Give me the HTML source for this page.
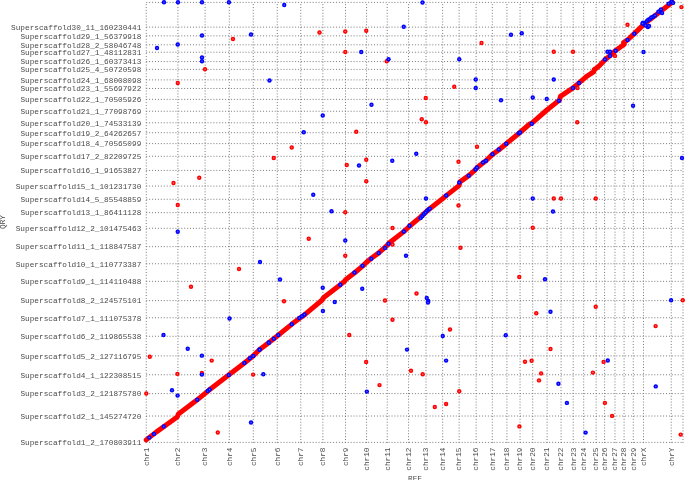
<!DOCTYPE html><html><head><meta charset="utf-8"><style>html,body{margin:0;padding:0;background:#fff;width:685px;height:480px;overflow:hidden}svg{display:block;will-change:transform}text{font-family:"Liberation Mono",monospace;fill:#4a4a4a}</style></head><body>
<svg width="685" height="480" viewBox="0 0 685 480">
<g stroke="#7a7a7a" stroke-width="1" stroke-dasharray="1 1.92"><line x1="146.24" y1="442.40" x2="683.0" y2="442.40"/><line x1="146.24" y1="416.03" x2="683.0" y2="416.03"/><line x1="146.24" y1="393.60" x2="683.0" y2="393.60"/><line x1="146.24" y1="374.78" x2="683.0" y2="374.78"/><line x1="146.24" y1="355.89" x2="683.0" y2="355.89"/><line x1="146.24" y1="336.27" x2="683.0" y2="336.27"/><line x1="146.24" y1="317.76" x2="683.0" y2="317.76"/><line x1="146.24" y1="300.61" x2="683.0" y2="300.61"/><line x1="146.24" y1="281.37" x2="683.0" y2="281.37"/><line x1="146.24" y1="263.76" x2="683.0" y2="263.76"/><line x1="146.24" y1="246.65" x2="683.0" y2="246.65"/><line x1="146.24" y1="228.30" x2="683.0" y2="228.30"/><line x1="146.24" y1="212.63" x2="683.0" y2="212.63"/><line x1="146.24" y1="199.29" x2="683.0" y2="199.29"/><line x1="146.24" y1="186.08" x2="683.0" y2="186.08"/><line x1="146.24" y1="170.45" x2="683.0" y2="170.45"/><line x1="146.24" y1="156.30" x2="683.0" y2="156.30"/><line x1="146.24" y1="143.61" x2="683.0" y2="143.61"/><line x1="146.24" y1="132.71" x2="683.0" y2="132.71"/><line x1="146.24" y1="122.79" x2="683.0" y2="122.79"/><line x1="146.24" y1="111.28" x2="683.0" y2="111.28"/><line x1="146.24" y1="99.38" x2="683.0" y2="99.38"/><line x1="146.24" y1="88.49" x2="683.0" y2="88.49"/><line x1="146.24" y1="79.89" x2="683.0" y2="79.89"/><line x1="146.24" y1="69.39" x2="683.0" y2="69.39"/><line x1="146.24" y1="61.56" x2="683.0" y2="61.56"/><line x1="146.24" y1="52.24" x2="683.0" y2="52.24"/><line x1="146.24" y1="44.81" x2="683.0" y2="44.81"/><line x1="146.24" y1="35.85" x2="683.0" y2="35.85"/><line x1="146.24" y1="27.14" x2="683.0" y2="27.14"/><line x1="146.24" y1="2.40" x2="683.0" y2="2.40"/></g>
<g stroke="#7a7a7a" stroke-width="1" stroke-dasharray="1 1.88"><line x1="146.24" y1="442.9" x2="146.24" y2="2.4"/><line x1="177.91" y1="442.9" x2="177.91" y2="2.4"/><line x1="205.12" y1="442.9" x2="205.12" y2="2.4"/><line x1="229.29" y1="442.9" x2="229.29" y2="2.4"/><line x1="253.25" y1="442.9" x2="253.25" y2="2.4"/><line x1="277.24" y1="442.9" x2="277.24" y2="2.4"/><line x1="300.77" y1="442.9" x2="300.77" y2="2.4"/><line x1="322.88" y1="442.9" x2="322.88" y2="2.4"/><line x1="345.51" y1="442.9" x2="345.51" y2="2.4"/><line x1="366.58" y1="442.9" x2="366.58" y2="2.4"/><line x1="387.21" y1="442.9" x2="387.21" y2="2.4"/><line x1="408.58" y1="442.9" x2="408.58" y2="2.4"/><line x1="426.00" y1="442.9" x2="426.00" y2="2.4"/><line x1="442.67" y1="442.9" x2="442.67" y2="2.4"/><line x1="459.13" y1="442.9" x2="459.13" y2="2.4"/><line x1="476.11" y1="442.9" x2="476.11" y2="2.4"/><line x1="492.30" y1="442.9" x2="492.30" y2="2.4"/><line x1="506.91" y1="442.9" x2="506.91" y2="2.4"/><line x1="520.06" y1="442.9" x2="520.06" y2="2.4"/><line x1="532.73" y1="442.9" x2="532.73" y2="2.4"/><line x1="547.11" y1="442.9" x2="547.11" y2="2.4"/><line x1="561.06" y1="442.9" x2="561.06" y2="2.4"/><line x1="573.20" y1="442.9" x2="573.20" y2="2.4"/><line x1="583.69" y1="442.9" x2="583.69" y2="2.4"/><line x1="596.13" y1="442.9" x2="596.13" y2="2.4"/><line x1="604.59" y1="442.9" x2="604.59" y2="2.4"/><line x1="614.98" y1="442.9" x2="614.98" y2="2.4"/><line x1="624.09" y1="442.9" x2="624.09" y2="2.4"/><line x1="633.26" y1="442.9" x2="633.26" y2="2.4"/><line x1="643.47" y1="442.9" x2="643.47" y2="2.4"/><line x1="671.24" y1="442.9" x2="671.24" y2="2.4"/><line x1="683.00" y1="442.9" x2="683.00" y2="2.4"/></g>
<g font-size="7.75"><text x="141.3" y="445.20" text-anchor="end">Superscaffold1_2_170803911</text><text x="141.3" y="418.83" text-anchor="end">Superscaffold2_1_145274720</text><text x="141.3" y="396.40" text-anchor="end">Superscaffold3_2_121875780</text><text x="141.3" y="377.58" text-anchor="end">Superscaffold4_1_122308515</text><text x="141.3" y="358.69" text-anchor="end">Superscaffold5_2_127116795</text><text x="141.3" y="339.07" text-anchor="end">Superscaffold6_2_119865538</text><text x="141.3" y="320.56" text-anchor="end">Superscaffold7_1_111075378</text><text x="141.3" y="303.41" text-anchor="end">Superscaffold8_2_124575101</text><text x="141.3" y="284.17" text-anchor="end">Superscaffold9_1_114110488</text><text x="141.3" y="266.56" text-anchor="end">Superscaffold10_1_110773387</text><text x="141.3" y="249.45" text-anchor="end">Superscaffold11_1_118847587</text><text x="141.3" y="231.10" text-anchor="end">Superscaffold12_2_101475463</text><text x="141.3" y="215.43" text-anchor="end">Superscaffold13_1_86411128</text><text x="141.3" y="202.09" text-anchor="end">Superscaffold14_5_85548859</text><text x="141.3" y="188.88" text-anchor="end">Superscaffold15_1_101231730</text><text x="141.3" y="173.25" text-anchor="end">Superscaffold16_1_91653827</text><text x="141.3" y="159.10" text-anchor="end">Superscaffold17_2_82209725</text><text x="141.3" y="146.41" text-anchor="end">Superscaffold18_4_70565099</text><text x="141.3" y="135.51" text-anchor="end">Superscaffold19_2_64262657</text><text x="141.3" y="125.59" text-anchor="end">Superscaffold20_1_74533139</text><text x="141.3" y="114.08" text-anchor="end">Superscaffold21_1_77098769</text><text x="141.3" y="102.18" text-anchor="end">Superscaffold22_1_70505926</text><text x="141.3" y="91.29" text-anchor="end">Superscaffold23_1_55697922</text><text x="141.3" y="82.69" text-anchor="end">Superscaffold24_1_68008098</text><text x="141.3" y="72.19" text-anchor="end">Superscaffold25_4_50720598</text><text x="141.3" y="64.36" text-anchor="end">Superscaffold26_1_60373413</text><text x="141.3" y="55.04" text-anchor="end">Superscaffold27_1_48112831</text><text x="141.3" y="47.61" text-anchor="end">Superscaffold28_2_58046748</text><text x="141.3" y="38.65" text-anchor="end">Superscaffold29_1_56379918</text><text x="141.3" y="29.94" text-anchor="end">Superscaffold30_11_160230441</text></g>
<g font-size="7.75"><text transform="translate(148.54 447.5) rotate(-90)" text-anchor="end">chr1</text><text transform="translate(180.21 447.5) rotate(-90)" text-anchor="end">chr2</text><text transform="translate(207.42 447.5) rotate(-90)" text-anchor="end">chr3</text><text transform="translate(231.59 447.5) rotate(-90)" text-anchor="end">chr4</text><text transform="translate(255.55 447.5) rotate(-90)" text-anchor="end">chr5</text><text transform="translate(279.54 447.5) rotate(-90)" text-anchor="end">chr6</text><text transform="translate(303.07 447.5) rotate(-90)" text-anchor="end">chr7</text><text transform="translate(325.18 447.5) rotate(-90)" text-anchor="end">chr8</text><text transform="translate(347.81 447.5) rotate(-90)" text-anchor="end">chr9</text><text transform="translate(368.88 447.5) rotate(-90)" text-anchor="end">chr10</text><text transform="translate(389.51 447.5) rotate(-90)" text-anchor="end">chr11</text><text transform="translate(410.88 447.5) rotate(-90)" text-anchor="end">chr12</text><text transform="translate(428.30 447.5) rotate(-90)" text-anchor="end">chr13</text><text transform="translate(444.97 447.5) rotate(-90)" text-anchor="end">chr14</text><text transform="translate(461.43 447.5) rotate(-90)" text-anchor="end">chr15</text><text transform="translate(478.41 447.5) rotate(-90)" text-anchor="end">chr16</text><text transform="translate(494.60 447.5) rotate(-90)" text-anchor="end">chr17</text><text transform="translate(509.21 447.5) rotate(-90)" text-anchor="end">chr18</text><text transform="translate(522.36 447.5) rotate(-90)" text-anchor="end">chr19</text><text transform="translate(535.03 447.5) rotate(-90)" text-anchor="end">chr20</text><text transform="translate(549.41 447.5) rotate(-90)" text-anchor="end">chr21</text><text transform="translate(563.36 447.5) rotate(-90)" text-anchor="end">chr22</text><text transform="translate(575.50 447.5) rotate(-90)" text-anchor="end">chr23</text><text transform="translate(585.99 447.5) rotate(-90)" text-anchor="end">chr24</text><text transform="translate(598.43 447.5) rotate(-90)" text-anchor="end">chr25</text><text transform="translate(606.89 447.5) rotate(-90)" text-anchor="end">chr26</text><text transform="translate(617.28 447.5) rotate(-90)" text-anchor="end">chr27</text><text transform="translate(626.39 447.5) rotate(-90)" text-anchor="end">chr28</text><text transform="translate(635.56 447.5) rotate(-90)" text-anchor="end">chr29</text><text transform="translate(645.77 447.5) rotate(-90)" text-anchor="end">chrX</text><text transform="translate(673.54 447.5) rotate(-90)" text-anchor="end">chrY</text></g>
<text font-size="7.75" transform="translate(5.3 222) rotate(-90)" text-anchor="middle">QRY</text>
<text font-size="7.75" x="415" y="481" text-anchor="middle">REF</text>
<polyline points="146.20,439.90 156.50,431.90 164.00,426.50 177.20,416.90 178.40,414.10 196.90,400.10 208.50,390.60 229.00,374.75 244.40,362.90 253.10,356.00 259.40,349.75 269.00,342.50 278.50,335.00 291.90,324.10 300.00,318.10 305.00,314.40 321.90,300.25 323.75,297.50 340.00,285.00 344.60,281.30 345.80,279.40 355.00,272.50 363.10,265.60 366.25,262.50 371.00,258.50 378.75,252.90 386.90,245.60 389.40,242.75 403.75,231.60 409.75,226.00 419.80,217.60 428.75,209.40 442.50,198.75 446.25,195.60 459.00,185.60 460.00,181.90 468.75,175.60 474.40,170.60 477.25,167.50 481.90,163.75 485.60,161.00 492.50,154.40 498.75,150.00 506.25,143.75 518.75,133.50 530.00,123.75 531.90,123.10 546.90,110.00 558.75,100.60 559.60,100.10 560.40,96.30 573.10,87.90 578.75,83.10 583.75,78.90 586.00,76.90 591.00,73.50 593.60,71.90 594.30,69.60 596.25,68.20 599.50,65.60 605.00,59.75 610.00,55.60 616.00,50.20 624.30,44.20 623.60,42.60 627.75,39.75 634.00,33.90 640.00,28.10 643.50,24.60 672.30,2.20" fill="none" stroke="#ff0000" stroke-width="5" stroke-linecap="round" stroke-linejoin="round"/>
<circle cx="232.97" cy="39.06" r="2.2" fill="#ff0000"/><circle cx="232.97" cy="39.06" r="0.75" fill="#ff7070"/><circle cx="205.00" cy="69.25" r="2.2" fill="#ff0000"/><circle cx="205.00" cy="69.25" r="0.75" fill="#ff7070"/><circle cx="177.75" cy="83.00" r="2.2" fill="#ff0000"/><circle cx="177.75" cy="83.00" r="0.75" fill="#ff7070"/><circle cx="319.50" cy="32.50" r="2.2" fill="#ff0000"/><circle cx="319.50" cy="32.50" r="0.75" fill="#ff7070"/><circle cx="345.25" cy="31.50" r="2.2" fill="#ff0000"/><circle cx="345.25" cy="31.50" r="0.75" fill="#ff7070"/><circle cx="366.25" cy="30.75" r="2.2" fill="#ff0000"/><circle cx="366.25" cy="30.75" r="0.75" fill="#ff7070"/><circle cx="345.25" cy="52.00" r="2.2" fill="#ff0000"/><circle cx="345.25" cy="52.00" r="0.75" fill="#ff7070"/><circle cx="386.75" cy="61.25" r="2.2" fill="#ff0000"/><circle cx="386.75" cy="61.25" r="0.75" fill="#ff7070"/><circle cx="454.25" cy="86.75" r="2.2" fill="#ff0000"/><circle cx="454.25" cy="86.75" r="0.75" fill="#ff7070"/><circle cx="425.75" cy="98.00" r="2.2" fill="#ff0000"/><circle cx="425.75" cy="98.00" r="0.75" fill="#ff7070"/><circle cx="421.75" cy="119.25" r="2.2" fill="#ff0000"/><circle cx="421.75" cy="119.25" r="0.75" fill="#ff7070"/><circle cx="426.00" cy="122.25" r="2.2" fill="#ff0000"/><circle cx="426.00" cy="122.25" r="0.75" fill="#ff7070"/><circle cx="481.50" cy="43.00" r="2.2" fill="#ff0000"/><circle cx="481.50" cy="43.00" r="0.75" fill="#ff7070"/><circle cx="553.75" cy="51.75" r="2.2" fill="#ff0000"/><circle cx="553.75" cy="51.75" r="0.75" fill="#ff7070"/><circle cx="573.00" cy="51.75" r="2.2" fill="#ff0000"/><circle cx="573.00" cy="51.75" r="0.75" fill="#ff7070"/><circle cx="577.50" cy="88.00" r="2.2" fill="#ff0000"/><circle cx="577.50" cy="88.00" r="0.75" fill="#ff7070"/><circle cx="615.00" cy="55.90" r="2.2" fill="#ff0000"/><circle cx="615.00" cy="55.90" r="0.75" fill="#ff7070"/><circle cx="681.40" cy="7.10" r="2.2" fill="#ff0000"/><circle cx="681.40" cy="7.10" r="0.75" fill="#ff7070"/><circle cx="627.50" cy="24.75" r="2.2" fill="#ff0000"/><circle cx="627.50" cy="24.75" r="0.75" fill="#ff7070"/><circle cx="291.75" cy="147.50" r="2.2" fill="#ff0000"/><circle cx="291.75" cy="147.50" r="0.75" fill="#ff7070"/><circle cx="273.75" cy="158.00" r="2.2" fill="#ff0000"/><circle cx="273.75" cy="158.00" r="0.75" fill="#ff7070"/><circle cx="199.25" cy="177.75" r="2.2" fill="#ff0000"/><circle cx="199.25" cy="177.75" r="0.75" fill="#ff7070"/><circle cx="173.50" cy="183.00" r="2.2" fill="#ff0000"/><circle cx="173.50" cy="183.00" r="0.75" fill="#ff7070"/><circle cx="177.75" cy="205.00" r="2.2" fill="#ff0000"/><circle cx="177.75" cy="205.00" r="0.75" fill="#ff7070"/><circle cx="356.25" cy="131.75" r="2.2" fill="#ff0000"/><circle cx="356.25" cy="131.75" r="0.75" fill="#ff7070"/><circle cx="366.25" cy="159.75" r="2.2" fill="#ff0000"/><circle cx="366.25" cy="159.75" r="0.75" fill="#ff7070"/><circle cx="346.75" cy="165.00" r="2.2" fill="#ff0000"/><circle cx="346.75" cy="165.00" r="0.75" fill="#ff7070"/><circle cx="458.50" cy="161.75" r="2.2" fill="#ff0000"/><circle cx="458.50" cy="161.75" r="0.75" fill="#ff7070"/><circle cx="366.25" cy="181.25" r="2.2" fill="#ff0000"/><circle cx="366.25" cy="181.25" r="0.75" fill="#ff7070"/><circle cx="345.25" cy="212.25" r="2.2" fill="#ff0000"/><circle cx="345.25" cy="212.25" r="0.75" fill="#ff7070"/><circle cx="392.50" cy="228.00" r="2.2" fill="#ff0000"/><circle cx="392.50" cy="228.00" r="0.75" fill="#ff7070"/><circle cx="458.50" cy="205.50" r="2.2" fill="#ff0000"/><circle cx="458.50" cy="205.50" r="0.75" fill="#ff7070"/><circle cx="577.25" cy="122.25" r="2.2" fill="#ff0000"/><circle cx="577.25" cy="122.25" r="0.75" fill="#ff7070"/><circle cx="477.00" cy="146.75" r="2.2" fill="#ff0000"/><circle cx="477.00" cy="146.75" r="0.75" fill="#ff7070"/><circle cx="553.75" cy="198.50" r="2.2" fill="#ff0000"/><circle cx="553.75" cy="198.50" r="0.75" fill="#ff7070"/><circle cx="561.00" cy="198.50" r="2.2" fill="#ff0000"/><circle cx="561.00" cy="198.50" r="0.75" fill="#ff7070"/><circle cx="595.75" cy="198.50" r="2.2" fill="#ff0000"/><circle cx="595.75" cy="198.50" r="0.75" fill="#ff7070"/><circle cx="532.75" cy="227.75" r="2.2" fill="#ff0000"/><circle cx="532.75" cy="227.75" r="0.75" fill="#ff7070"/><circle cx="239.00" cy="269.00" r="2.2" fill="#ff0000"/><circle cx="239.00" cy="269.00" r="0.75" fill="#ff7070"/><circle cx="191.00" cy="286.75" r="2.2" fill="#ff0000"/><circle cx="191.00" cy="286.75" r="0.75" fill="#ff7070"/><circle cx="284.00" cy="301.25" r="2.2" fill="#ff0000"/><circle cx="284.00" cy="301.25" r="0.75" fill="#ff7070"/><circle cx="308.75" cy="238.75" r="2.2" fill="#ff0000"/><circle cx="308.75" cy="238.75" r="0.75" fill="#ff7070"/><circle cx="345.25" cy="255.75" r="2.2" fill="#ff0000"/><circle cx="345.25" cy="255.75" r="0.75" fill="#ff7070"/><circle cx="392.50" cy="244.50" r="2.2" fill="#ff0000"/><circle cx="392.50" cy="244.50" r="0.75" fill="#ff7070"/><circle cx="460.50" cy="247.75" r="2.2" fill="#ff0000"/><circle cx="460.50" cy="247.75" r="0.75" fill="#ff7070"/><circle cx="416.50" cy="293.50" r="2.2" fill="#ff0000"/><circle cx="416.50" cy="293.50" r="0.75" fill="#ff7070"/><circle cx="385.00" cy="300.50" r="2.2" fill="#ff0000"/><circle cx="385.00" cy="300.50" r="0.75" fill="#ff7070"/><circle cx="392.50" cy="319.75" r="2.2" fill="#ff0000"/><circle cx="392.50" cy="319.75" r="0.75" fill="#ff7070"/><circle cx="349.25" cy="335.00" r="2.2" fill="#ff0000"/><circle cx="349.25" cy="335.00" r="0.75" fill="#ff7070"/><circle cx="450.00" cy="329.50" r="2.2" fill="#ff0000"/><circle cx="450.00" cy="329.50" r="0.75" fill="#ff7070"/><circle cx="519.25" cy="277.00" r="2.2" fill="#ff0000"/><circle cx="519.25" cy="277.00" r="0.75" fill="#ff7070"/><circle cx="595.75" cy="306.75" r="2.2" fill="#ff0000"/><circle cx="595.75" cy="306.75" r="0.75" fill="#ff7070"/><circle cx="536.25" cy="313.25" r="2.2" fill="#ff0000"/><circle cx="536.25" cy="313.25" r="0.75" fill="#ff7070"/><circle cx="550.50" cy="349.00" r="2.2" fill="#ff0000"/><circle cx="550.50" cy="349.00" r="0.75" fill="#ff7070"/><circle cx="682.75" cy="300.20" r="2.2" fill="#ff0000"/><circle cx="682.75" cy="300.20" r="0.75" fill="#ff7070"/><circle cx="655.60" cy="326.10" r="2.2" fill="#ff0000"/><circle cx="655.60" cy="326.10" r="0.75" fill="#ff7070"/><circle cx="603.60" cy="361.90" r="2.2" fill="#ff0000"/><circle cx="603.60" cy="361.90" r="0.75" fill="#ff7070"/><circle cx="592.90" cy="372.60" r="2.2" fill="#ff0000"/><circle cx="592.90" cy="372.60" r="0.75" fill="#ff7070"/><circle cx="604.90" cy="402.90" r="2.2" fill="#ff0000"/><circle cx="604.90" cy="402.90" r="0.75" fill="#ff7070"/><circle cx="612.10" cy="415.90" r="2.2" fill="#ff0000"/><circle cx="612.10" cy="415.90" r="0.75" fill="#ff7070"/><circle cx="680.70" cy="434.60" r="2.2" fill="#ff0000"/><circle cx="680.70" cy="434.60" r="0.75" fill="#ff7070"/><circle cx="525.00" cy="361.70" r="2.2" fill="#ff0000"/><circle cx="525.00" cy="361.70" r="0.75" fill="#ff7070"/><circle cx="531.60" cy="360.80" r="2.2" fill="#ff0000"/><circle cx="531.60" cy="360.80" r="0.75" fill="#ff7070"/><circle cx="541.10" cy="373.40" r="2.2" fill="#ff0000"/><circle cx="541.10" cy="373.40" r="0.75" fill="#ff7070"/><circle cx="539.00" cy="380.40" r="2.2" fill="#ff0000"/><circle cx="539.00" cy="380.40" r="0.75" fill="#ff7070"/><circle cx="459.20" cy="391.20" r="2.2" fill="#ff0000"/><circle cx="459.20" cy="391.20" r="0.75" fill="#ff7070"/><circle cx="446.10" cy="404.00" r="2.2" fill="#ff0000"/><circle cx="446.10" cy="404.00" r="0.75" fill="#ff7070"/><circle cx="519.40" cy="426.40" r="2.2" fill="#ff0000"/><circle cx="519.40" cy="426.40" r="0.75" fill="#ff7070"/><circle cx="366.15" cy="362.00" r="2.2" fill="#ff0000"/><circle cx="366.15" cy="362.00" r="0.75" fill="#ff7070"/><circle cx="411.00" cy="370.80" r="2.2" fill="#ff0000"/><circle cx="411.00" cy="370.80" r="0.75" fill="#ff7070"/><circle cx="422.70" cy="374.30" r="2.2" fill="#ff0000"/><circle cx="422.70" cy="374.30" r="0.75" fill="#ff7070"/><circle cx="379.50" cy="385.10" r="2.2" fill="#ff0000"/><circle cx="379.50" cy="385.10" r="0.75" fill="#ff7070"/><circle cx="434.80" cy="407.00" r="2.2" fill="#ff0000"/><circle cx="434.80" cy="407.00" r="0.75" fill="#ff7070"/><circle cx="149.80" cy="356.80" r="2.2" fill="#ff0000"/><circle cx="149.80" cy="356.80" r="0.75" fill="#ff7070"/><circle cx="211.70" cy="360.60" r="2.2" fill="#ff0000"/><circle cx="211.70" cy="360.60" r="0.75" fill="#ff7070"/><circle cx="177.40" cy="373.90" r="2.2" fill="#ff0000"/><circle cx="177.40" cy="373.90" r="0.75" fill="#ff7070"/><circle cx="201.90" cy="372.90" r="2.2" fill="#ff0000"/><circle cx="201.90" cy="372.90" r="0.75" fill="#ff7070"/><circle cx="253.10" cy="374.60" r="2.2" fill="#ff0000"/><circle cx="253.10" cy="374.60" r="0.75" fill="#ff7070"/><circle cx="146.30" cy="393.50" r="2.2" fill="#ff0000"/><circle cx="146.30" cy="393.50" r="0.75" fill="#ff7070"/><circle cx="217.80" cy="432.50" r="2.2" fill="#ff0000"/><circle cx="217.80" cy="432.50" r="0.75" fill="#ff7070"/><circle cx="164.00" cy="2.30" r="2.2" fill="#0000ff"/><circle cx="164.00" cy="2.30" r="0.75" fill="#6060ff"/><circle cx="178.00" cy="2.30" r="2.2" fill="#0000ff"/><circle cx="178.00" cy="2.30" r="0.75" fill="#6060ff"/><circle cx="202.00" cy="2.30" r="2.2" fill="#0000ff"/><circle cx="202.00" cy="2.30" r="0.75" fill="#6060ff"/><circle cx="228.90" cy="2.30" r="2.2" fill="#0000ff"/><circle cx="228.90" cy="2.30" r="0.75" fill="#6060ff"/><circle cx="284.25" cy="5.00" r="2.2" fill="#0000ff"/><circle cx="284.25" cy="5.00" r="0.75" fill="#6060ff"/><circle cx="202.00" cy="35.50" r="2.2" fill="#0000ff"/><circle cx="202.00" cy="35.50" r="0.75" fill="#6060ff"/><circle cx="251.00" cy="34.50" r="2.2" fill="#0000ff"/><circle cx="251.00" cy="34.50" r="0.75" fill="#6060ff"/><circle cx="157.00" cy="48.00" r="2.2" fill="#0000ff"/><circle cx="157.00" cy="48.00" r="0.75" fill="#6060ff"/><circle cx="177.75" cy="44.50" r="2.2" fill="#0000ff"/><circle cx="177.75" cy="44.50" r="0.75" fill="#6060ff"/><circle cx="202.00" cy="57.50" r="2.2" fill="#0000ff"/><circle cx="202.00" cy="57.50" r="0.75" fill="#6060ff"/><circle cx="202.00" cy="61.25" r="2.2" fill="#0000ff"/><circle cx="202.00" cy="61.25" r="0.75" fill="#6060ff"/><circle cx="269.50" cy="80.50" r="2.2" fill="#0000ff"/><circle cx="269.50" cy="80.50" r="0.75" fill="#6060ff"/><circle cx="422.50" cy="2.50" r="2.2" fill="#0000ff"/><circle cx="422.50" cy="2.50" r="0.75" fill="#6060ff"/><circle cx="403.75" cy="26.75" r="2.2" fill="#0000ff"/><circle cx="403.75" cy="26.75" r="0.75" fill="#6060ff"/><circle cx="361.25" cy="52.00" r="2.2" fill="#0000ff"/><circle cx="361.25" cy="52.00" r="0.75" fill="#6060ff"/><circle cx="388.50" cy="59.25" r="2.2" fill="#0000ff"/><circle cx="388.50" cy="59.25" r="0.75" fill="#6060ff"/><circle cx="459.25" cy="59.25" r="2.2" fill="#0000ff"/><circle cx="459.25" cy="59.25" r="0.75" fill="#6060ff"/><circle cx="371.50" cy="104.75" r="2.2" fill="#0000ff"/><circle cx="371.50" cy="104.75" r="0.75" fill="#6060ff"/><circle cx="322.75" cy="115.50" r="2.2" fill="#0000ff"/><circle cx="322.75" cy="115.50" r="0.75" fill="#6060ff"/><circle cx="511.00" cy="34.75" r="2.2" fill="#0000ff"/><circle cx="511.00" cy="34.75" r="0.75" fill="#6060ff"/><circle cx="521.75" cy="33.25" r="2.2" fill="#0000ff"/><circle cx="521.75" cy="33.25" r="0.75" fill="#6060ff"/><circle cx="475.75" cy="79.50" r="2.2" fill="#0000ff"/><circle cx="475.75" cy="79.50" r="0.75" fill="#6060ff"/><circle cx="475.75" cy="88.00" r="2.2" fill="#0000ff"/><circle cx="475.75" cy="88.00" r="0.75" fill="#6060ff"/><circle cx="553.75" cy="79.50" r="2.2" fill="#0000ff"/><circle cx="553.75" cy="79.50" r="0.75" fill="#6060ff"/><circle cx="501.00" cy="100.25" r="2.2" fill="#0000ff"/><circle cx="501.00" cy="100.25" r="0.75" fill="#6060ff"/><circle cx="532.75" cy="97.50" r="2.2" fill="#0000ff"/><circle cx="532.75" cy="97.50" r="0.75" fill="#6060ff"/><circle cx="546.75" cy="99.00" r="2.2" fill="#0000ff"/><circle cx="546.75" cy="99.00" r="0.75" fill="#6060ff"/><circle cx="643.50" cy="52.00" r="2.2" fill="#0000ff"/><circle cx="643.50" cy="52.00" r="0.75" fill="#6060ff"/><circle cx="177.75" cy="231.75" r="2.2" fill="#0000ff"/><circle cx="177.75" cy="231.75" r="0.75" fill="#6060ff"/><circle cx="303.75" cy="132.25" r="2.2" fill="#0000ff"/><circle cx="303.75" cy="132.25" r="0.75" fill="#6060ff"/><circle cx="416.25" cy="153.75" r="2.2" fill="#0000ff"/><circle cx="416.25" cy="153.75" r="0.75" fill="#6060ff"/><circle cx="392.25" cy="160.75" r="2.2" fill="#0000ff"/><circle cx="392.25" cy="160.75" r="0.75" fill="#6060ff"/><circle cx="359.00" cy="165.50" r="2.2" fill="#0000ff"/><circle cx="359.00" cy="165.50" r="0.75" fill="#6060ff"/><circle cx="313.25" cy="194.75" r="2.2" fill="#0000ff"/><circle cx="313.25" cy="194.75" r="0.75" fill="#6060ff"/><circle cx="426.00" cy="198.50" r="2.2" fill="#0000ff"/><circle cx="426.00" cy="198.50" r="0.75" fill="#6060ff"/><circle cx="331.50" cy="211.25" r="2.2" fill="#0000ff"/><circle cx="331.50" cy="211.25" r="0.75" fill="#6060ff"/><circle cx="633.06" cy="105.75" r="2.2" fill="#0000ff"/><circle cx="633.06" cy="105.75" r="0.75" fill="#6060ff"/><circle cx="682.00" cy="158.06" r="2.2" fill="#0000ff"/><circle cx="682.00" cy="158.06" r="0.75" fill="#6060ff"/><circle cx="532.75" cy="198.50" r="2.2" fill="#0000ff"/><circle cx="532.75" cy="198.50" r="0.75" fill="#6060ff"/><circle cx="553.00" cy="211.50" r="2.2" fill="#0000ff"/><circle cx="553.00" cy="211.50" r="0.75" fill="#6060ff"/><circle cx="260.00" cy="262.00" r="2.2" fill="#0000ff"/><circle cx="260.00" cy="262.00" r="0.75" fill="#6060ff"/><circle cx="280.00" cy="279.50" r="2.2" fill="#0000ff"/><circle cx="280.00" cy="279.50" r="0.75" fill="#6060ff"/><circle cx="229.50" cy="318.50" r="2.2" fill="#0000ff"/><circle cx="229.50" cy="318.50" r="0.75" fill="#6060ff"/><circle cx="163.50" cy="335.00" r="2.2" fill="#0000ff"/><circle cx="163.50" cy="335.00" r="0.75" fill="#6060ff"/><circle cx="187.75" cy="348.70" r="2.2" fill="#0000ff"/><circle cx="187.75" cy="348.70" r="0.75" fill="#6060ff"/><circle cx="345.25" cy="240.50" r="2.2" fill="#0000ff"/><circle cx="345.25" cy="240.50" r="0.75" fill="#6060ff"/><circle cx="406.00" cy="255.75" r="2.2" fill="#0000ff"/><circle cx="406.00" cy="255.75" r="0.75" fill="#6060ff"/><circle cx="322.75" cy="287.75" r="2.2" fill="#0000ff"/><circle cx="322.75" cy="287.75" r="0.75" fill="#6060ff"/><circle cx="362.25" cy="288.75" r="2.2" fill="#0000ff"/><circle cx="362.25" cy="288.75" r="0.75" fill="#6060ff"/><circle cx="334.75" cy="302.00" r="2.2" fill="#0000ff"/><circle cx="334.75" cy="302.00" r="0.75" fill="#6060ff"/><circle cx="426.75" cy="298.00" r="2.2" fill="#0000ff"/><circle cx="426.75" cy="298.00" r="0.75" fill="#6060ff"/><circle cx="428.25" cy="301.00" r="2.2" fill="#0000ff"/><circle cx="428.25" cy="301.00" r="0.75" fill="#6060ff"/><circle cx="428.00" cy="302.50" r="2.2" fill="#0000ff"/><circle cx="428.00" cy="302.50" r="0.75" fill="#6060ff"/><circle cx="322.90" cy="311.00" r="2.2" fill="#0000ff"/><circle cx="322.90" cy="311.00" r="0.75" fill="#6060ff"/><circle cx="442.75" cy="336.00" r="2.2" fill="#0000ff"/><circle cx="442.75" cy="336.00" r="0.75" fill="#6060ff"/><circle cx="407.00" cy="349.60" r="2.2" fill="#0000ff"/><circle cx="407.00" cy="349.60" r="0.75" fill="#6060ff"/><circle cx="545.00" cy="279.25" r="2.2" fill="#0000ff"/><circle cx="545.00" cy="279.25" r="0.75" fill="#6060ff"/><circle cx="550.50" cy="311.75" r="2.2" fill="#0000ff"/><circle cx="550.50" cy="311.75" r="0.75" fill="#6060ff"/><circle cx="505.75" cy="335.25" r="2.2" fill="#0000ff"/><circle cx="505.75" cy="335.25" r="0.75" fill="#6060ff"/><circle cx="671.10" cy="300.20" r="2.2" fill="#0000ff"/><circle cx="671.10" cy="300.20" r="0.75" fill="#6060ff"/><circle cx="607.80" cy="360.50" r="2.2" fill="#0000ff"/><circle cx="607.80" cy="360.50" r="0.75" fill="#6060ff"/><circle cx="655.75" cy="386.40" r="2.2" fill="#0000ff"/><circle cx="655.75" cy="386.40" r="0.75" fill="#6060ff"/><circle cx="566.90" cy="402.90" r="2.2" fill="#0000ff"/><circle cx="566.90" cy="402.90" r="0.75" fill="#6060ff"/><circle cx="585.60" cy="432.60" r="2.2" fill="#0000ff"/><circle cx="585.60" cy="432.60" r="0.75" fill="#6060ff"/><circle cx="446.10" cy="360.60" r="2.2" fill="#0000ff"/><circle cx="446.10" cy="360.60" r="0.75" fill="#6060ff"/><circle cx="558.40" cy="383.70" r="2.2" fill="#0000ff"/><circle cx="558.40" cy="383.70" r="0.75" fill="#6060ff"/><circle cx="366.85" cy="391.60" r="2.2" fill="#0000ff"/><circle cx="366.85" cy="391.60" r="0.75" fill="#6060ff"/><circle cx="201.90" cy="355.65" r="2.2" fill="#0000ff"/><circle cx="201.90" cy="355.65" r="0.75" fill="#6060ff"/><circle cx="201.90" cy="374.60" r="2.2" fill="#0000ff"/><circle cx="201.90" cy="374.60" r="0.75" fill="#6060ff"/><circle cx="263.30" cy="374.30" r="2.2" fill="#0000ff"/><circle cx="263.30" cy="374.30" r="0.75" fill="#6060ff"/><circle cx="172.00" cy="390.20" r="2.2" fill="#0000ff"/><circle cx="172.00" cy="390.20" r="0.75" fill="#6060ff"/><circle cx="177.60" cy="395.60" r="2.2" fill="#0000ff"/><circle cx="177.60" cy="395.60" r="0.75" fill="#6060ff"/><circle cx="251.00" cy="422.50" r="2.2" fill="#0000ff"/><circle cx="251.00" cy="422.50" r="0.75" fill="#6060ff"/><circle cx="559.00" cy="100.75" r="2.2" fill="#0000ff"/><circle cx="559.00" cy="100.75" r="0.75" fill="#6060ff"/><circle cx="573.00" cy="88.00" r="2.2" fill="#0000ff"/><circle cx="573.00" cy="88.00" r="0.75" fill="#6060ff"/><circle cx="579.00" cy="83.00" r="2.2" fill="#0000ff"/><circle cx="579.00" cy="83.00" r="0.75" fill="#6060ff"/><circle cx="605.00" cy="59.50" r="2.2" fill="#0000ff"/><circle cx="605.00" cy="59.50" r="0.75" fill="#6060ff"/><circle cx="607.50" cy="51.75" r="2.2" fill="#0000ff"/><circle cx="607.50" cy="51.75" r="0.75" fill="#6060ff"/><circle cx="610.00" cy="51.75" r="2.2" fill="#0000ff"/><circle cx="610.00" cy="51.75" r="0.75" fill="#6060ff"/><circle cx="610.00" cy="55.90" r="2.2" fill="#0000ff"/><circle cx="610.00" cy="55.90" r="0.75" fill="#6060ff"/><circle cx="615.60" cy="50.70" r="2.2" fill="#0000ff"/><circle cx="615.60" cy="50.70" r="0.75" fill="#6060ff"/><circle cx="627.50" cy="40.00" r="2.2" fill="#0000ff"/><circle cx="627.50" cy="40.00" r="0.75" fill="#6060ff"/><circle cx="634.40" cy="33.75" r="2.2" fill="#0000ff"/><circle cx="634.40" cy="33.75" r="0.75" fill="#6060ff"/><circle cx="643.10" cy="22.60" r="2.2" fill="#0000ff"/><circle cx="643.10" cy="22.60" r="0.75" fill="#6060ff"/><circle cx="644.60" cy="24.10" r="2.2" fill="#0000ff"/><circle cx="644.60" cy="24.10" r="0.75" fill="#6060ff"/><circle cx="647.90" cy="27.00" r="2.2" fill="#0000ff"/><circle cx="647.90" cy="27.00" r="0.75" fill="#6060ff"/><circle cx="646.80" cy="21.15" r="2.2" fill="#0000ff"/><circle cx="646.80" cy="21.15" r="0.75" fill="#6060ff"/><circle cx="648.20" cy="19.70" r="2.2" fill="#0000ff"/><circle cx="648.20" cy="19.70" r="0.75" fill="#6060ff"/><circle cx="650.00" cy="19.00" r="2.2" fill="#0000ff"/><circle cx="650.00" cy="19.00" r="0.75" fill="#6060ff"/><circle cx="651.20" cy="17.50" r="2.2" fill="#0000ff"/><circle cx="651.20" cy="17.50" r="0.75" fill="#6060ff"/><circle cx="653.30" cy="16.80" r="2.2" fill="#0000ff"/><circle cx="653.30" cy="16.80" r="0.75" fill="#6060ff"/><circle cx="655.00" cy="15.50" r="2.2" fill="#0000ff"/><circle cx="655.00" cy="15.50" r="0.75" fill="#6060ff"/><circle cx="658.40" cy="11.70" r="2.2" fill="#0000ff"/><circle cx="658.40" cy="11.70" r="0.75" fill="#6060ff"/><circle cx="660.60" cy="10.20" r="2.2" fill="#0000ff"/><circle cx="660.60" cy="10.20" r="0.75" fill="#6060ff"/><circle cx="662.10" cy="13.10" r="2.2" fill="#0000ff"/><circle cx="662.10" cy="13.10" r="0.75" fill="#6060ff"/><circle cx="661.00" cy="9.50" r="2.2" fill="#0000ff"/><circle cx="661.00" cy="9.50" r="0.75" fill="#6060ff"/><circle cx="668.70" cy="3.65" r="2.2" fill="#0000ff"/><circle cx="668.70" cy="3.65" r="0.75" fill="#6060ff"/><circle cx="671.60" cy="1.50" r="2.2" fill="#0000ff"/><circle cx="671.60" cy="1.50" r="0.75" fill="#6060ff"/><circle cx="673.00" cy="2.90" r="2.2" fill="#0000ff"/><circle cx="673.00" cy="2.90" r="0.75" fill="#6060ff"/><circle cx="645.50" cy="25.50" r="2.2" fill="#0000ff"/><circle cx="645.50" cy="25.50" r="0.75" fill="#6060ff"/><circle cx="642.50" cy="23.50" r="2.2" fill="#0000ff"/><circle cx="642.50" cy="23.50" r="0.75" fill="#6060ff"/><circle cx="649.00" cy="26.00" r="2.2" fill="#0000ff"/><circle cx="649.00" cy="26.00" r="0.75" fill="#6060ff"/><circle cx="403.75" cy="231.50" r="2.2" fill="#0000ff"/><circle cx="403.75" cy="231.50" r="0.75" fill="#6060ff"/><circle cx="409.50" cy="225.75" r="2.2" fill="#0000ff"/><circle cx="409.50" cy="225.75" r="0.75" fill="#6060ff"/><circle cx="420.60" cy="218.10" r="2.2" fill="#0000ff"/><circle cx="420.60" cy="218.10" r="0.75" fill="#6060ff"/><circle cx="422.40" cy="216.00" r="2.2" fill="#0000ff"/><circle cx="422.40" cy="216.00" r="0.75" fill="#6060ff"/><circle cx="424.00" cy="214.00" r="2.2" fill="#0000ff"/><circle cx="424.00" cy="214.00" r="0.75" fill="#6060ff"/><circle cx="425.60" cy="212.40" r="2.2" fill="#0000ff"/><circle cx="425.60" cy="212.40" r="0.75" fill="#6060ff"/><circle cx="427.20" cy="210.60" r="2.2" fill="#0000ff"/><circle cx="427.20" cy="210.60" r="0.75" fill="#6060ff"/><circle cx="428.60" cy="209.40" r="2.2" fill="#0000ff"/><circle cx="428.60" cy="209.40" r="0.75" fill="#6060ff"/><circle cx="429.80" cy="208.60" r="2.2" fill="#0000ff"/><circle cx="429.80" cy="208.60" r="0.75" fill="#6060ff"/><circle cx="446.25" cy="195.50" r="2.2" fill="#0000ff"/><circle cx="446.25" cy="195.50" r="0.75" fill="#6060ff"/><circle cx="459.25" cy="182.50" r="2.2" fill="#0000ff"/><circle cx="459.25" cy="182.50" r="0.75" fill="#6060ff"/><circle cx="468.75" cy="175.75" r="2.2" fill="#0000ff"/><circle cx="468.75" cy="175.75" r="0.75" fill="#6060ff"/><circle cx="475.50" cy="169.50" r="2.2" fill="#0000ff"/><circle cx="475.50" cy="169.50" r="0.75" fill="#6060ff"/><circle cx="477.00" cy="167.50" r="2.2" fill="#0000ff"/><circle cx="477.00" cy="167.50" r="0.75" fill="#6060ff"/><circle cx="483.00" cy="162.50" r="2.2" fill="#0000ff"/><circle cx="483.00" cy="162.50" r="0.75" fill="#6060ff"/><circle cx="486.00" cy="160.75" r="2.2" fill="#0000ff"/><circle cx="486.00" cy="160.75" r="0.75" fill="#6060ff"/><circle cx="492.50" cy="154.25" r="2.2" fill="#0000ff"/><circle cx="492.50" cy="154.25" r="0.75" fill="#6060ff"/><circle cx="498.75" cy="149.50" r="2.2" fill="#0000ff"/><circle cx="498.75" cy="149.50" r="0.75" fill="#6060ff"/><circle cx="506.25" cy="143.75" r="2.2" fill="#0000ff"/><circle cx="506.25" cy="143.75" r="0.75" fill="#6060ff"/><circle cx="518.75" cy="133.25" r="2.2" fill="#0000ff"/><circle cx="518.75" cy="133.25" r="0.75" fill="#6060ff"/><circle cx="520.00" cy="132.40" r="2.2" fill="#0000ff"/><circle cx="520.00" cy="132.40" r="0.75" fill="#6060ff"/><circle cx="531.75" cy="123.75" r="2.2" fill="#0000ff"/><circle cx="531.75" cy="123.75" r="0.75" fill="#6060ff"/><circle cx="291.75" cy="324.25" r="2.2" fill="#0000ff"/><circle cx="291.75" cy="324.25" r="0.75" fill="#6060ff"/><circle cx="278.25" cy="335.00" r="2.2" fill="#0000ff"/><circle cx="278.25" cy="335.00" r="0.75" fill="#6060ff"/><circle cx="273.75" cy="338.75" r="2.2" fill="#0000ff"/><circle cx="273.75" cy="338.75" r="0.75" fill="#6060ff"/><circle cx="268.75" cy="342.50" r="2.2" fill="#0000ff"/><circle cx="268.75" cy="342.50" r="0.75" fill="#6060ff"/><circle cx="259.50" cy="349.50" r="2.2" fill="#0000ff"/><circle cx="259.50" cy="349.50" r="0.75" fill="#6060ff"/><circle cx="299.25" cy="318.00" r="2.2" fill="#0000ff"/><circle cx="299.25" cy="318.00" r="0.75" fill="#6060ff"/><circle cx="302.00" cy="316.25" r="2.2" fill="#0000ff"/><circle cx="302.00" cy="316.25" r="0.75" fill="#6060ff"/><circle cx="304.50" cy="314.50" r="2.2" fill="#0000ff"/><circle cx="304.50" cy="314.50" r="0.75" fill="#6060ff"/><circle cx="340.25" cy="284.75" r="2.2" fill="#0000ff"/><circle cx="340.25" cy="284.75" r="0.75" fill="#6060ff"/><circle cx="354.50" cy="272.50" r="2.2" fill="#0000ff"/><circle cx="354.50" cy="272.50" r="0.75" fill="#6060ff"/><circle cx="362.50" cy="265.75" r="2.2" fill="#0000ff"/><circle cx="362.50" cy="265.75" r="0.75" fill="#6060ff"/><circle cx="371.25" cy="258.75" r="2.2" fill="#0000ff"/><circle cx="371.25" cy="258.75" r="0.75" fill="#6060ff"/><circle cx="378.75" cy="253.00" r="2.2" fill="#0000ff"/><circle cx="378.75" cy="253.00" r="0.75" fill="#6060ff"/><circle cx="385.00" cy="248.00" r="2.2" fill="#0000ff"/><circle cx="385.00" cy="248.00" r="0.75" fill="#6060ff"/><circle cx="388.50" cy="243.75" r="2.2" fill="#0000ff"/><circle cx="388.50" cy="243.75" r="0.75" fill="#6060ff"/><circle cx="149.30" cy="437.60" r="2.2" fill="#0000ff"/><circle cx="149.30" cy="437.60" r="0.75" fill="#6060ff"/><circle cx="154.00" cy="433.90" r="2.2" fill="#0000ff"/><circle cx="154.00" cy="433.90" r="0.75" fill="#6060ff"/><circle cx="163.80" cy="426.40" r="2.2" fill="#0000ff"/><circle cx="163.80" cy="426.40" r="0.75" fill="#6060ff"/><circle cx="197.20" cy="399.80" r="2.2" fill="#0000ff"/><circle cx="197.20" cy="399.80" r="0.75" fill="#6060ff"/><circle cx="207.70" cy="390.90" r="2.2" fill="#0000ff"/><circle cx="207.70" cy="390.90" r="0.75" fill="#6060ff"/><circle cx="209.60" cy="389.50" r="2.2" fill="#0000ff"/><circle cx="209.60" cy="389.50" r="0.75" fill="#6060ff"/><circle cx="228.80" cy="375.00" r="2.2" fill="#0000ff"/><circle cx="228.80" cy="375.00" r="0.75" fill="#6060ff"/><circle cx="244.40" cy="362.90" r="2.2" fill="#0000ff"/><circle cx="244.40" cy="362.90" r="0.75" fill="#6060ff"/><circle cx="249.80" cy="358.20" r="2.2" fill="#0000ff"/><circle cx="249.80" cy="358.20" r="0.75" fill="#6060ff"/><circle cx="253.30" cy="355.90" r="2.2" fill="#0000ff"/><circle cx="253.30" cy="355.90" r="0.75" fill="#6060ff"/><circle cx="259.60" cy="349.80" r="2.2" fill="#0000ff"/><circle cx="259.60" cy="349.80" r="0.75" fill="#6060ff"/><circle cx="268.90" cy="342.80" r="2.2" fill="#0000ff"/><circle cx="268.90" cy="342.80" r="0.75" fill="#6060ff"/>
</svg></body></html>
